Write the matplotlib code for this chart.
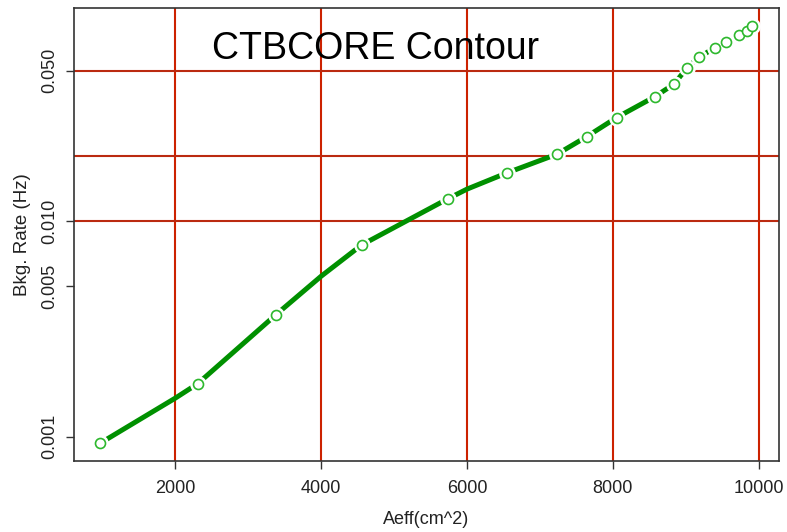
import numpy as np
import matplotlib
matplotlib.use("Agg")
import matplotlib.pyplot as plt
from matplotlib.ticker import FixedLocator, NullLocator

plt.rcParams['font.family'] = ['Liberation Sans', 'DejaVu Sans']

# contour points marked with open circles
aeff_pts = [964, 2305, 3374, 4554, 5734, 6543, 7237, 7641, 8052, 8577,
            8842, 9012, 9181, 9401, 9551, 9734, 9844, 9908]
rate_pts = [0.00093, 0.00176, 0.00367, 0.00776, 0.0127, 0.01675, 0.0205,
            0.0247, 0.0303, 0.0379, 0.0434, 0.0513, 0.0577, 0.0640, 0.0682,
            0.0733, 0.0767, 0.0809]

# full contour trace (circles plus a few points read between them)
aeff_line = [964, 2000, 2305, 3374, 4000, 4554, 5734, 6000, 6543, 7237, 7641,
             8052, 8577, 8842, 9012, 9181, 9401, 9551, 9734, 9844, 9908]
rate_line = [0.00093, 0.00151, 0.00176, 0.00367, 0.00556, 0.00776, 0.0127,
             0.0141, 0.01675, 0.0205, 0.0247, 0.0303, 0.0379, 0.0434, 0.0513,
             0.0577, 0.0640, 0.0682, 0.0733, 0.0767, 0.0809]

x_grid = [2000, 4000, 6000, 8000, 10000]
y_grid = [0.01, 0.02, 0.05]
y_ticks = [0.001, 0.005, 0.010, 0.050]
y_ticklabels = ['0.001', '0.005', '0.010', '0.050']

fig = plt.figure(figsize=(7.87, 5.32), dpi=100)
ax = fig.add_axes([74 / 787, 1 - 461 / 532, 705 / 787, 453 / 532])

ax.set_yscale('log')
ax.set_xlim(608, 10280)
ax.set_ylim(0.000770, 0.0978)

# red reference lines
for xv in x_grid:
    ax.axvline(xv, color='#cc2200', lw=1.5, zorder=1)
for yv in y_grid:
    ax.axhline(yv, color='#bb2a10', lw=1.5, zorder=1)

# contour trace, with a white gap around each circle
ax.plot(aeff_line, rate_line, color='#009000', lw=3.6,
        solid_capstyle='butt', solid_joinstyle='round', zorder=2)
ax.plot(aeff_pts, rate_pts, ls='none', marker='o', ms=11,
        mfc='white', mec='white', zorder=3)
ax.plot(aeff_pts, rate_pts, ls='none', marker='o', ms=7.2,
        mfc='white', mec='#2db82d', mew=1.2, zorder=4)

ax.yaxis.set_major_locator(FixedLocator(y_ticks))
ax.yaxis.set_minor_locator(NullLocator())
ax.set_yticklabels(y_ticklabels, rotation=90, va='center')
ax.set_xticks(x_grid)
ax.set_xticklabels([str(v) for v in x_grid])

ax.tick_params(axis='both', direction='out', length=5.5, width=1,
               color='#333333', labelsize=13, labelcolor='#222222')
ax.tick_params(axis='x', pad=8)
ax.tick_params(axis='y', pad=6)

for sp in ax.spines.values():
    sp.set_color('#333333')
    sp.set_linewidth(1.2)

ax.text(0.427, 0.887, 'CTBCORE Contour', transform=ax.transAxes,
        ha='center', va='baseline', fontsize=27, color='black', zorder=5)

fig.text(426 / 787, 1 - 519 / 532, 'Aeff(cm^2)', ha='center', va='center',
         fontsize=13, color='#222222')
fig.text(31 / 787, 1 - 235 / 532, 'Bkg. Rate (Hz)', rotation=90,
         ha='right', va='center', fontsize=13.5, color='#222222')

fig.savefig('out.png', dpi=100)
